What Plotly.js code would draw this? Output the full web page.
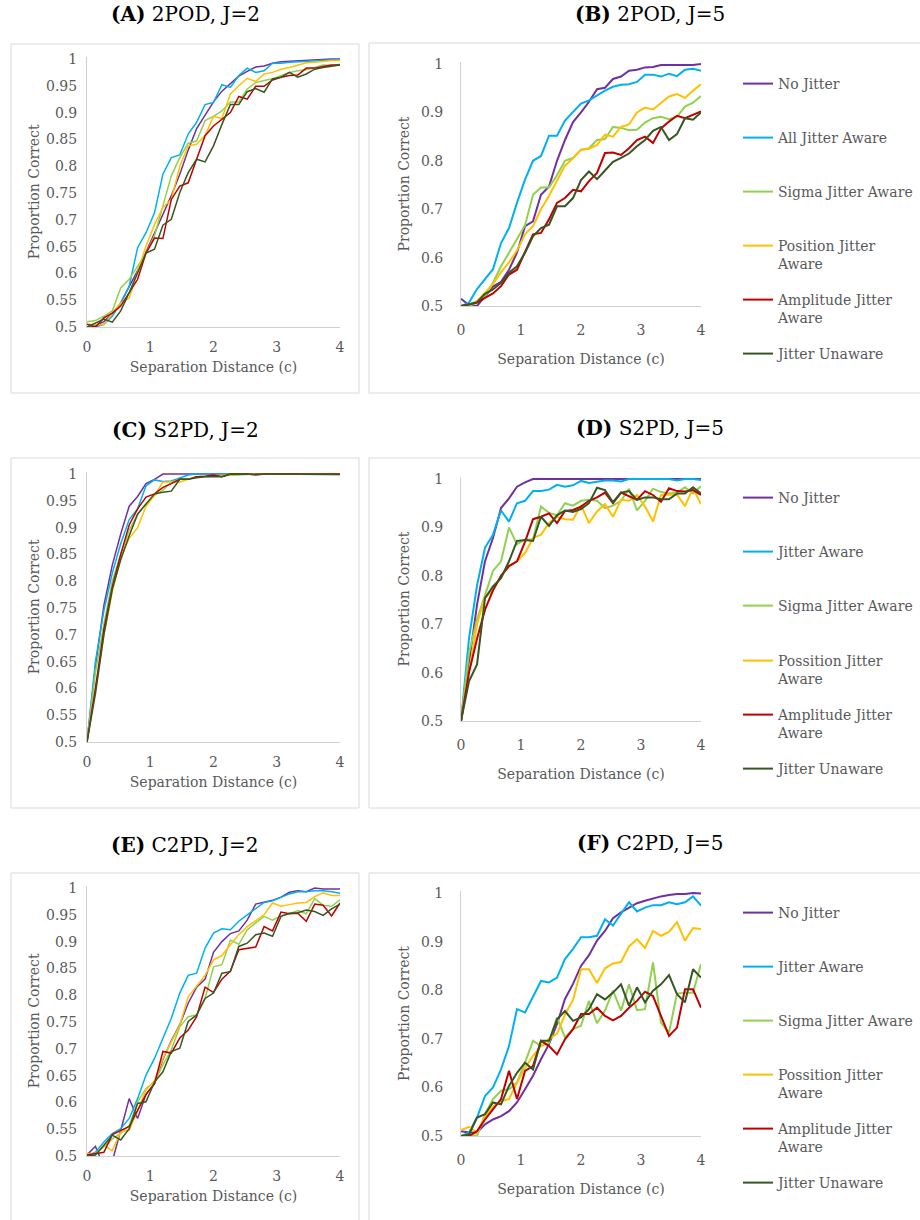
<!DOCTYPE html>
<html>
<head>
<meta charset="utf-8">
<script src="https://cdn.plot.ly/plotly-3.0.1.min.js"></script>
<style>html,body{margin:0;padding:0;background:#fff}#chart{width:920px;height:1220px}</style>
</head>
<body>
<div id="chart"></div>
<script>
// ---------- DATA ----------
const separation = [0,0.133,0.267,0.4,0.533,0.667,0.8,0.933,1.067,1.2,1.333,1.467,1.6,1.733,1.867,2,2.133,2.267,2.4,2.533,2.667,2.8,2.933,3.067,3.2,3.333,3.467,3.6,3.733,3.867,4];

const namesB = ['No Jitter','All Jitter Aware','Sigma Jitter Aware','Position Jitter<br>Aware','Amplitude Jitter<br>Aware','Jitter Unaware'];
const namesDF = ['No Jitter','Jitter Aware','Sigma Jitter Aware','Possition Jitter<br>Aware','Amplitude Jitter<br>Aware','Jitter Unaware'];

const panelTitles = ['<b>(A)</b> 2POD, J=2','<b>(B)</b> 2POD, J=5','<b>(C)</b> S2PD, J=2','<b>(D)</b> S2PD, J=5','<b>(E)</b> C2PD, J=2','<b>(F)</b> C2PD, J=5'];

// Panel A: 2POD, J=2
const A_noJitter  = [0.5,0.502,0.51,0.525,0.545,0.575,0.605,0.64,0.675,0.71,0.745,0.785,0.83,0.87,0.895,0.92,0.94,0.955,0.968,0.977,0.985,0.987,0.992,0.995,0.996,0.997,0.998,0.999,0.999,1.0,1.0];
const A_allAware  = [0.5,0.5,0.505,0.52,0.545,0.576,0.648,0.676,0.713,0.785,0.816,0.821,0.86,0.882,0.915,0.919,0.952,0.947,0.969,0.983,0.975,0.978,0.992,0.992,0.994,0.995,0.996,0.997,0.998,0.999,0.999];
const A_sigma     = [0.51,0.512,0.52,0.53,0.573,0.589,0.613,0.638,0.67,0.726,0.782,0.816,0.843,0.847,0.885,0.893,0.903,0.92,0.92,0.944,0.956,0.96,0.963,0.969,0.975,0.978,0.98,0.984,0.989,0.988,0.99];
const A_position  = [0.505,0.504,0.504,0.526,0.545,0.554,0.601,0.651,0.691,0.723,0.738,0.8,0.838,0.841,0.857,0.893,0.889,0.935,0.95,0.964,0.958,0.972,0.975,0.981,0.984,0.989,0.993,0.994,0.996,0.997,0.997];
const A_amplitude = [0.505,0.5,0.517,0.526,0.539,0.564,0.589,0.638,0.666,0.665,0.738,0.763,0.769,0.813,0.857,0.875,0.888,0.9,0.93,0.925,0.949,0.949,0.961,0.966,0.969,0.97,0.983,0.983,0.986,0.989,0.989];
const A_unaware   = [0.5,0.507,0.515,0.509,0.53,0.564,0.601,0.638,0.645,0.69,0.701,0.751,0.788,0.813,0.808,0.838,0.878,0.915,0.915,0.939,0.945,0.938,0.963,0.966,0.975,0.966,0.972,0.981,0.984,0.986,0.989];

// Panel B: 2POD, J=5
const B_noJitter  = [0.515,0.502,0.5,0.52,0.54,0.55,0.575,0.61,0.665,0.675,0.73,0.747,0.8,0.843,0.88,0.9,0.922,0.948,0.951,0.969,0.974,0.986,0.988,0.993,0.994,0.998,0.998,0.999,0.999,0.998,1.0];
const B_allAware  = [0.5,0.507,0.535,0.556,0.576,0.63,0.661,0.713,0.761,0.8,0.81,0.852,0.852,0.883,0.9,0.918,0.925,0.935,0.945,0.953,0.957,0.958,0.963,0.978,0.978,0.974,0.98,0.975,0.988,0.99,0.986];
const B_sigma     = [0.5,0.5,0.507,0.52,0.548,0.582,0.61,0.637,0.667,0.73,0.745,0.745,0.77,0.8,0.806,0.823,0.826,0.843,0.845,0.87,0.868,0.863,0.864,0.879,0.888,0.891,0.886,0.891,0.912,0.92,0.934];
const B_position  = [0.5,0.503,0.51,0.527,0.545,0.57,0.59,0.615,0.648,0.665,0.7,0.728,0.76,0.79,0.805,0.823,0.825,0.833,0.854,0.85,0.87,0.875,0.9,0.91,0.906,0.92,0.933,0.938,0.93,0.945,0.958];
const B_amplitude = [0.5,0.503,0.507,0.517,0.526,0.541,0.565,0.575,0.61,0.648,0.651,0.679,0.713,0.723,0.74,0.737,0.758,0.775,0.816,0.817,0.812,0.826,0.843,0.85,0.837,0.867,0.881,0.893,0.888,0.895,0.902];
const B_unaware   = [0.5,0.503,0.508,0.525,0.534,0.548,0.569,0.582,0.61,0.644,0.661,0.668,0.706,0.706,0.723,0.76,0.778,0.762,0.78,0.798,0.806,0.815,0.83,0.843,0.862,0.87,0.843,0.855,0.888,0.885,0.9];

// Panel C: S2PD, J=2
const C_noJitter  = [0.5,0.64,0.755,0.83,0.888,0.94,0.958,0.982,0.99,1,1,1,1,1,1,1,1,1,1,1,1,1,1,1,1,1,1,1,1,1,1];
const C_allAware  = [0.5,0.65,0.745,0.815,0.87,0.915,0.935,0.978,0.989,0.986,0.987,0.993,0.998,1,1,1,1,1,1,1,1,1,1,1,1,1,1,1,1,1,1];
const C_sigma     = [0.5,0.63,0.72,0.8,0.85,0.895,0.925,0.945,0.96,0.97,0.985,0.99,0.99,0.995,0.995,0.996,0.997,0.998,0.999,0.999,1,1,1,1,1,1,1,1,1,1,0.999];
const C_position  = [0.5,0.6,0.7,0.78,0.845,0.88,0.9,0.94,0.96,0.985,0.985,0.985,0.99,0.995,0.996,0.997,0.998,0.999,1,1,1,1,1,1,1,1,1,1,1,1,1];
const C_amplitude = [0.5,0.6,0.71,0.79,0.85,0.905,0.935,0.957,0.963,0.975,0.982,0.99,0.99,0.995,0.996,0.998,0.995,1,1,1,0.998,1,1,1,1,1,1,1,1,1,1];
const C_unaware   = [0.5,0.59,0.7,0.785,0.84,0.885,0.925,0.945,0.963,0.966,0.968,0.99,0.99,0.993,0.995,0.995,0.995,1,1,1,1,1,1,1,1,1,1,1,1,1,0.999];

// Panel D: S2PD, J=5
const D_noJitter  = [0.5,0.62,0.74,0.83,0.878,0.94,0.96,0.984,0.993,1,1,1,1,1,1,1,1,1,1,1,1,1,1,1,1,1,1,1,1,1,1];
const D_allAware  = [0.5,0.67,0.78,0.858,0.885,0.935,0.912,0.95,0.955,0.975,0.975,0.978,0.988,0.984,0.987,0.996,0.992,0.995,0.997,0.997,0.995,1,1,1,1,1,1,0.997,1,1,0.998];
const D_sigma     = [0.5,0.64,0.71,0.76,0.81,0.83,0.9,0.865,0.875,0.875,0.943,0.93,0.925,0.95,0.945,0.955,0.957,0.955,0.94,0.945,0.955,0.98,0.935,0.955,0.98,0.973,0.97,0.972,0.983,0.97,0.985];
const D_position  = [0.5,0.6,0.7,0.755,0.77,0.8,0.82,0.83,0.847,0.878,0.885,0.909,0.922,0.917,0.916,0.946,0.909,0.933,0.948,0.922,0.957,0.955,0.967,0.943,0.912,0.967,0.968,0.968,0.944,0.981,0.948];
const D_amplitude = [0.5,0.6,0.67,0.73,0.77,0.8,0.82,0.83,0.87,0.917,0.922,0.929,0.909,0.934,0.936,0.943,0.955,0.962,0.972,0.95,0.972,0.964,0.957,0.975,0.967,0.953,0.981,0.975,0.974,0.977,0.967];
const D_unaware   = [0.5,0.582,0.617,0.754,0.778,0.795,0.83,0.872,0.874,0.872,0.922,0.903,0.925,0.935,0.932,0.938,0.95,0.982,0.977,0.952,0.972,0.975,0.957,0.962,0.962,0.958,0.958,0.97,0.97,0.983,0.97];

// Panel E: C2PD, J=2
const E_noJitter  = [0.502,0.518,0.48,0.49,0.548,0.607,0.57,0.615,0.635,0.68,0.715,0.745,0.785,0.815,0.83,0.88,0.9,0.915,0.92,0.94,0.97,0.973,0.977,0.983,0.992,0.995,0.993,1.0,0.998,0.998,0.998];
const E_allAware  = [0.5,0.507,0.526,0.542,0.551,0.57,0.607,0.651,0.682,0.719,0.757,0.804,0.837,0.841,0.888,0.916,0.924,0.922,0.938,0.95,0.961,0.973,0.976,0.983,0.989,0.993,0.993,0.995,0.995,0.993,0.99];
const E_sigma     = [0.5,0.505,0.517,0.532,0.542,0.557,0.601,0.626,0.638,0.67,0.698,0.741,0.76,0.763,0.794,0.853,0.857,0.903,0.895,0.922,0.935,0.947,0.94,0.948,0.952,0.958,0.952,0.98,0.968,0.966,0.978];
const E_position  = [0.505,0.502,0.52,0.51,0.545,0.548,0.585,0.623,0.641,0.682,0.713,0.744,0.797,0.816,0.837,0.866,0.874,0.894,0.913,0.928,0.939,0.95,0.972,0.966,0.969,0.972,0.973,0.984,0.991,0.986,0.986];
const E_amplitude = [0.502,0.505,0.507,0.54,0.548,0.555,0.585,0.615,0.635,0.695,0.692,0.72,0.735,0.76,0.815,0.805,0.83,0.845,0.885,0.887,0.89,0.928,0.92,0.955,0.952,0.953,0.938,0.97,0.968,0.948,0.972];
const E_unaware   = [0.5,0.502,0.52,0.539,0.53,0.551,0.598,0.601,0.638,0.657,0.695,0.701,0.751,0.763,0.794,0.804,0.841,0.844,0.891,0.897,0.913,0.916,0.91,0.947,0.953,0.954,0.959,0.956,0.949,0.961,0.97];

// Panel F: C2PD, J=5
const F_noJitter  = [0.51,0.507,0.507,0.524,0.534,0.541,0.551,0.569,0.596,0.624,0.658,0.689,0.73,0.782,0.813,0.85,0.872,0.902,0.922,0.948,0.96,0.97,0.979,0.984,0.989,0.993,0.996,0.998,0.998,1.0,0.999];
const F_allAware  = [0.5,0.507,0.538,0.582,0.6,0.637,0.685,0.761,0.754,0.785,0.819,0.816,0.826,0.864,0.885,0.909,0.909,0.912,0.946,0.933,0.957,0.981,0.962,0.97,0.975,0.975,0.981,0.977,0.981,0.993,0.974];
const F_sigma     = [0.5,0.503,0.5,0.545,0.576,0.593,0.596,0.61,0.651,0.696,0.685,0.692,0.744,0.703,0.72,0.727,0.778,0.732,0.758,0.799,0.758,0.812,0.759,0.761,0.857,0.733,0.713,0.793,0.795,0.795,0.854];
const F_position  = [0.512,0.519,0.507,0.54,0.56,0.572,0.576,0.61,0.64,0.665,0.685,0.7,0.71,0.75,0.78,0.843,0.843,0.815,0.845,0.855,0.858,0.89,0.905,0.887,0.922,0.912,0.92,0.94,0.902,0.928,0.926];
const F_amplitude = [0.5,0.5,0.51,0.534,0.555,0.576,0.634,0.576,0.634,0.644,0.696,0.685,0.668,0.699,0.72,0.751,0.751,0.764,0.747,0.738,0.747,0.764,0.778,0.797,0.788,0.747,0.706,0.723,0.802,0.802,0.764];
const F_unaware   = [0.5,0.503,0.538,0.545,0.569,0.565,0.603,0.63,0.651,0.637,0.696,0.696,0.74,0.757,0.737,0.744,0.761,0.792,0.781,0.795,0.812,0.768,0.806,0.775,0.799,0.812,0.831,0.792,0.775,0.843,0.826];

// ---------- STYLE / LAYOUT ----------
const colors = ['#7030A0','#00B0F0','#92D050','#FFC000','#C00000','#375623'];
const W = 920, H = 1220;
const FONT = 'DejaVu Serif, serif';
const GRAY = '#595959';
const px = v => v / W;
const py = v => 1 - v / H;

const panels = [
  {series:[A_noJitter,A_allAware,A_sigma,A_position,A_amplitude,A_unaware], names:namesB, legend:false, left:true, top:56.86, bottom:327, lw:1.5},
  {series:[B_noJitter,B_allAware,B_sigma,B_position,B_amplitude,B_unaware], names:namesB, legend:true, left:false, top:62.06, bottom:306, lw:2, keys:[83,137,191,245,299,353]},
  {series:[C_noJitter,C_allAware,C_sigma,C_position,C_amplitude,C_unaware], names:namesB, legend:false, left:true, top:471.86, bottom:742, lw:1.5},
  {series:[D_noJitter,D_allAware,D_sigma,D_position,D_amplitude,D_unaware], names:namesDF, legend:true, left:false, top:477.06, bottom:721, lw:2, keys:[497,551,605,660,714,768]},
  {series:[E_noJitter,E_allAware,E_sigma,E_position,E_amplitude,E_unaware], names:namesB, legend:false, left:true, top:885.86, bottom:1156, lw:1.5},
  {series:[F_noJitter,F_allAware,F_sigma,F_position,F_amplitude,F_unaware], names:namesDF, legend:true, left:false, top:891.06, bottom:1136, lw:2, keys:[912,966,1020,1074,1128,1182]}
];
const titlePos = [[185,14],[650,14],[185,430],[650,428],[185,845],[650,843]];
const boxes = [[11,44,359,393],[369,43,930,393],[11,458,359,808],[369,458,930,808],[11,873,359,1230],[369,873,930,1230]];

const traces = [];
const layout = {
  width: W, height: H,
  margin: {l:0, r:0, t:0, b:0},
  paper_bgcolor: '#ffffff', plot_bgcolor: 'rgba(0,0,0,0)',
  font: {family: FONT, size: 14, color: GRAY},
  showlegend: true,
  annotations: [], shapes: []
};

let legendCount = 0;
panels.forEach((p, k) => {
  const n = k + 1;
  const xa = n === 1 ? 'x' : 'x' + n;
  const ya = n === 1 ? 'y' : 'y' + n;
  const xKey = n === 1 ? 'xaxis' : 'xaxis' + n;
  const yKey = n === 1 ? 'yaxis' : 'yaxis' + n;
  const xd = p.left ? [px(87), px(340)] : [px(461), px(701)];

  layout[xKey] = {
    domain: xd, anchor: ya, range: [0, 4], tickvals: [0,1,2,3,4],
    showline: true, linecolor: '#d0d0d0', linewidth: 1, showgrid: false, zeroline: false,
    ticks: '', tickfont: {family: FONT, size: 14, color: GRAY},
    ticklabelstandoff: p.left ? 7 : 11,
    title: {text: 'Separation Distance (c)', font: {family: FONT, size: 14, color: GRAY}, standoff: p.left ? 8 : 17},
    fixedrange: true
  };
  layout[yKey] = {
    domain: [py(p.bottom), py(p.top)], anchor: xa, range: [0.5, 1.004],
    tick0: 0.5, dtick: p.left ? 0.05 : 0.1,
    showline: true, linecolor: '#d0d0d0', linewidth: 1, showgrid: false, zeroline: false,
    ticks: '', tickfont: {family: FONT, size: 14, color: GRAY},
    ticklabelstandoff: p.left ? 6 : 14,
    title: {text: 'Proportion Correct', font: {family: FONT, size: 14, color: GRAY}, standoff: p.left ? 3 : 8},
    fixedrange: true
  };

  p.series.forEach((vals, s) => {
    const t = {
      type: 'scatter', mode: 'lines', x: separation, y: vals,
      xaxis: xa, yaxis: ya, name: p.names[s],
      line: {color: colors[s], width: p.lw},
      hoverinfo: 'skip'
    };
    if (p.legend) {
      legendCount += 1;
      const lk = legendCount === 1 ? 'legend' : 'legend' + legendCount;
      t.legend = lk;
      t.showlegend = true;
      layout[lk] = {
        x: px(738), xanchor: 'left',
        y: py(p.keys[s] - 15), yanchor: 'top',
        bgcolor: 'rgba(0,0,0,0)', borderwidth: 0, valign: 'top',
        font: {family: FONT, size: 14, color: GRAY}
      };
    } else {
      t.showlegend = false;
    }
    traces.push(t);
  });

  layout.annotations.push({
    text: panelTitles[k], xref: 'paper', yref: 'paper',
    x: px(titlePos[k][0]), y: py(titlePos[k][1]), xanchor: 'center', yanchor: 'middle',
    showarrow: false, font: {family: FONT, size: 20, color: '#000000'}
  });
  const b = boxes[k];
  layout.shapes.push({
    type: 'rect', xref: 'paper', yref: 'paper', layer: 'below',
    x0: px(b[0]), x1: px(b[2]), y0: py(b[3]), y1: py(b[1]),
    line: {color: '#d9d9d9', width: 1}, fillcolor: 'rgba(0,0,0,0)'
  });
});

Plotly.newPlot('chart', traces, layout, {staticPlot: true, displayModeBar: false});
</script>
</body>
</html>
